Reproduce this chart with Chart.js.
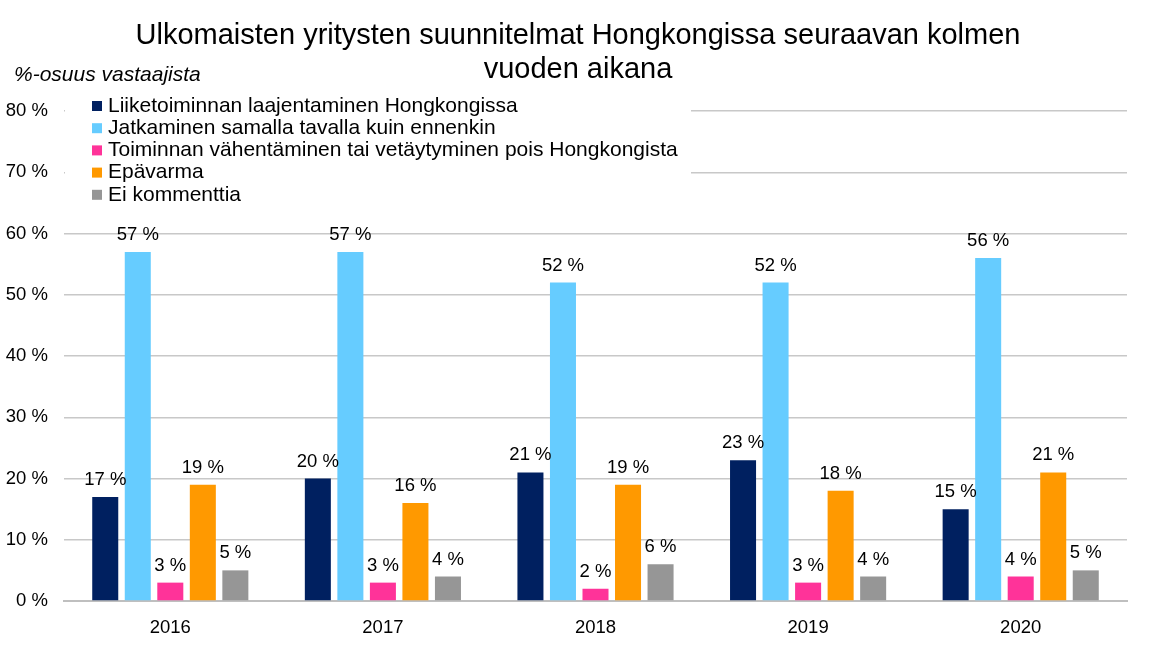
<!DOCTYPE html>
<html><head><meta charset="utf-8">
<script src="https://cdn.jsdelivr.net/npm/chart.js@4.4.0/dist/chart.umd.min.js"></script>
<style>html,body{margin:0;padding:0;background:#fff}#wrap{width:1153px;height:652px}</style>
</head><body><div id="wrap"><canvas id="c" width="1153" height="652"></canvas></div>
<script>
const categories = ['2016','2017','2018','2019','2020'];
const seriesNames = ['Liiketoiminnan laajentaminen Hongkongissa','Jatkaminen samalla tavalla kuin ennenkin','Toiminnan vähentäminen tai vetäytyminen pois Hongkongista','Epävarma','Ei kommenttia'];
const expand = [17,20,21,23,15];
const cont = [57,57,52,52,56];
const reduce = [3,3,2,3,4];
const unsure = [19,16,19,18,21];
const noComment = [5,4,6,4,5];
const colors = ['#002060','#66CCFF','#FF3399','#FF9900','#969696'];
const titleLines = ['Ulkomaisten yritysten suunnitelmat Hongkongissa seuraavan kolmen','vuoden aikana'];
const yTitle = '%-osuus vastaajista';
const FONT = '"Liberation Sans", Arial, sans-serif';

const values = [expand, cont, reduce, unsure, noComment];
const datasets = values.map((v,i)=>({label:seriesNames[i],data:v,backgroundColor:colors[i],barPercentage:0.8,categoryPercentage:0.765}));

const deco = {
  id:'deco',
  afterDatasetsDraw(chart){
    const ctx = chart.ctx;
    ctx.save();
    // data labels
    ctx.font = '18.5px '+FONT;
    ctx.fillStyle = '#000';
    ctx.textAlign = 'center';
    ctx.textBaseline = 'alphabetic';
    chart.data.datasets.forEach((ds,di)=>{
      chart.getDatasetMeta(di).data.forEach((bar,i)=>{
        ctx.fillText(ds.data[i]+' %', bar.x, bar.y-12);
      });
    });
    // legend
    const a = chart.chartArea;
    ctx.fillStyle = '#fff';
    ctx.fillRect(a.left+1, 95, 626, 115);
    ctx.font = '21px '+FONT;
    ctx.textAlign = 'left';
    ctx.textBaseline = 'middle';
    seriesNames.forEach((n,i)=>{
      const y = 106 + i*22.2;
      ctx.fillStyle = colors[i];
      ctx.fillRect(92, y-5, 10, 10);
      ctx.fillStyle = '#000';
      ctx.fillText(n, 108, y);
    });
    // titles
    ctx.fillStyle = '#000';
    ctx.font = '29px '+FONT;
    ctx.textAlign = 'center';
    ctx.textBaseline = 'middle';
    ctx.fillText(titleLines[0], 578, 36);
    ctx.fillText(titleLines[1], 578, 70);
    ctx.font = 'italic 21px '+FONT;
    ctx.textAlign = 'left';
    ctx.fillText(yTitle, 14, 75);
    ctx.restore();
  }
};

new Chart(document.getElementById('c'), {
  type:'bar',
  data:{labels:categories, datasets},
  options:{
    responsive:false, animation:false,
    layout:{padding:{top:111, right:26, left:0, bottom:0}},
    plugins:{legend:{display:false}, title:{display:false}, tooltip:{enabled:false}},
    scales:{
      x:{
        afterFit(s){ s.height = 51; },
        grid:{display:false, drawTicks:false},
        border:{display:true, color:'#bfbfbf', width:2},
        ticks:{color:'#000', font:{family:FONT, size:18.5}, padding:16}
      },
      y:{
        min:0, max:80,
        afterFit(s){ s.width = 64; },
        grid:{color:'#c8c8c8', lineWidth:1.5, drawTicks:false},
        border:{display:false},
        ticks:{stepSize:10, color:'#000', font:{family:FONT, size:18.5}, padding:16, callback:v=>v+' %'}
      }
    }
  },
  plugins:[deco]
});
</script></body></html>
